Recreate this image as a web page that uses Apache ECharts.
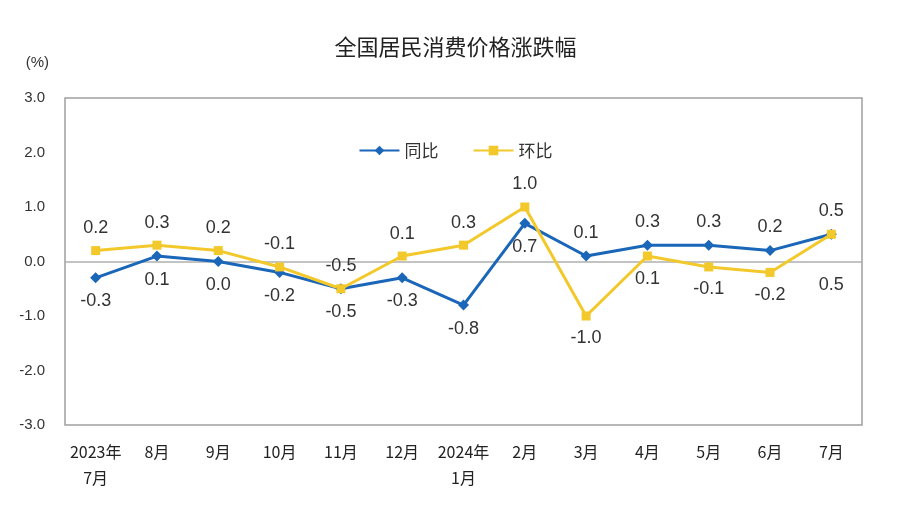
<!DOCTYPE html>
<html>
<head>
<meta charset="UTF-8">
<title>全国居民消费价格涨跌幅</title>
<style>
  html, body { margin: 0; padding: 0; background: #fff; }
  #chart { width: 911px; height: 508px; }
</style>
</head>
<body>
<div id="chart"></div>
<script src="https://cdn.jsdelivr.net/npm/echarts@6/dist/echarts.min.js"></script>
<script>
// 月份
var months = ['2023年\n7月', '8月', '9月', '10月', '11月', '12月', '2024年\n1月', '2月', '3月', '4月', '5月', '6月', '7月'];
// 同比
var yoy = [-0.3, 0.1, 0.0, -0.2, -0.5, -0.3, -0.8, 0.7, 0.1, 0.3, 0.3, 0.2, 0.5];
// 环比
var mom = [0.2, 0.3, 0.2, -0.1, -0.5, 0.1, 0.3, 1.0, -1.0, 0.1, -0.1, -0.2, 0.5];
// 标签位置
var yoyLabelPos = ['bottom', 'bottom', 'bottom', 'bottom', 'bottom', 'bottom', 'bottom', 'bottom', 'top', 'top', 'top', 'top', 'top'];
var momLabelPos = ['top', 'top', 'top', 'top', 'top', 'top', 'top', 'top', 'bottom', 'bottom', 'bottom', 'bottom', 'bottom'];

var BLUE = '#1a66b8';
var YELLOW = '#f2c82a';
var numFont = 'Liberation Sans, Arial, sans-serif';
var cjkFont = 'Noto Sans CJK SC, sans-serif';

function buildData(vals, pos, extraOffsetIdx) {
  return vals.map(function (v, i) {
    var item = { value: v, label: { position: pos[i] } };
    if (i === extraOffsetIdx) item.label.offset = [0, 28];
    return item;
  });
}

var chart = echarts.init(document.getElementById('chart'));
var option = {
  backgroundColor: '#fff',
  animation: false,
  title: {
    text: '全国居民消费价格涨跌幅',
    left: 'center',
    top: 31,
    textStyle: { fontFamily: cjkFont, fontSize: 22, fontWeight: 'normal', color: '#222' }
  },
  legend: {
    top: 137,
    left: 'center',
    itemWidth: 40,
    itemHeight: 12,
    itemGap: 34,
    textStyle: { fontFamily: cjkFont, fontSize: 17, color: '#333' },
    data: ['同比', '环比']
  },
  grid: {
    left: 65,
    right: 49,
    top: 98,
    bottom: 83,
    show: true,
    borderColor: '#a0a0a0',
    borderWidth: 1.5
  },
  xAxis: {
    type: 'category',
    data: months,
    boundaryGap: true,
    axisLine: { onZero: true, lineStyle: { color: '#b0b0b0', width: 1.5 } },
    axisTick: { show: false },
    axisLabel: {
      fontFamily: cjkFont,
      fontSize: 16,
      color: '#222',
      interval: 0,
      margin: 14,
      lineHeight: 26
    }
  },
  yAxis: {
    type: 'value',
    min: -3,
    max: 3,
    interval: 1,
    name: '(%)',
    nameLocation: 'end',
    nameGap: 28,
    nameTextStyle: { fontFamily: numFont, fontSize: 15, color: '#333', align: 'right', padding: [0, 16, 0, 0] },
    axisLine: { show: false },
    axisTick: { show: false },
    splitLine: { show: false },
    axisLabel: {
      fontFamily: numFont,
      fontSize: 15,
      color: '#333',
      margin: 20,
      formatter: function (v) { return v.toFixed(1); }
    }
  },
  series: [
    {
      name: '同比',
      type: 'line',
      data: buildData(yoy, yoyLabelPos, -1),
      symbol: 'diamond',
      symbolSize: 11,
      lineStyle: { color: BLUE, width: 3 },
      itemStyle: { color: BLUE },
      label: {
        show: true,
        distance: 9,
        fontFamily: numFont,
        fontSize: 18,
        color: '#333',
        formatter: function (p) { return p.value.toFixed(1); }
      }
    },
    {
      name: '环比',
      type: 'line',
      data: buildData(mom, momLabelPos, 12),
      symbol: 'rect',
      symbolSize: 9,
      lineStyle: { color: YELLOW, width: 3 },
      itemStyle: { color: YELLOW },
      label: {
        show: true,
        distance: 9,
        fontFamily: numFont,
        fontSize: 18,
        color: '#333',
        formatter: function (p) { return p.value.toFixed(1); }
      }
    }
  ]
};
chart.setOption(option);
</script>
</body>
</html>
